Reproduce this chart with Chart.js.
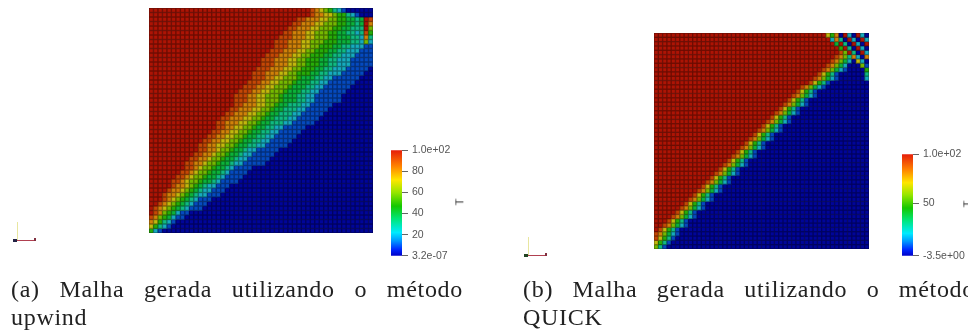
<!DOCTYPE html>
<html>
<head>
<meta charset="utf-8">
<script src="https://cdn.jsdelivr.net/npm/chart.js@4"></script>
<style>
  html, body { margin: 0; padding: 0; background: #fff; width: 968px; height: 330px; overflow: hidden; }
  .box { position: absolute; }
  .box canvas { filter: blur(0.65px); }
  .cap { position: absolute; width: 452px; font-family: "Liberation Serif", serif; font-size: 24px; letter-spacing: 0.7px; line-height: 28px; color: #222; white-space: nowrap; filter: blur(0.3px); }
  .just { white-space: normal; text-align: justify; text-align-last: justify; }
  .tlabel { position: absolute; font: 11px "Liberation Sans", sans-serif; color: #333; transform: rotate(-90deg); filter: blur(0.4px); }
  .ax { position: absolute; filter: blur(0.6px); }
</style>
</head>
<body>

<div class="box" style="left:149px;top:8px;width:224px;height:225px"><canvas id="meshUpwind"></canvas></div>
<div class="box" style="left:654px;top:33px;width:215px;height:216px"><canvas id="meshQuick"></canvas></div>
<div class="box" style="left:388px;top:140px;width:80px;height:126px"><canvas id="barUpwind"></canvas></div>
<div class="box" style="left:899px;top:144px;width:69px;height:122px"><canvas id="barQuick"></canvas></div>

<div class="tlabel" style="left:456px;top:196px">T</div>
<div class="tlabel" style="left:964px;top:198px">T</div>

<!-- orientation widgets -->
<div class="ax" style="left:17px;top:222px;width:1px;height:18px;background:#e8e6a0"></div>
<div class="ax" style="left:14px;top:240px;width:22px;height:1px;background:#b04050"></div>
<div class="ax" style="left:13px;top:239px;width:4px;height:3px;background:#224"></div>
<div class="ax" style="left:34px;top:238px;width:2px;height:3px;background:#803040"></div>
<div class="ax" style="left:528px;top:237px;width:1px;height:18px;background:#e8e6a0"></div>
<div class="ax" style="left:525px;top:255px;width:22px;height:1px;background:#b04050"></div>
<div class="ax" style="left:524px;top:254px;width:4px;height:3px;background:#242"></div>
<div class="ax" style="left:545px;top:253px;width:2px;height:3px;background:#803040"></div>

<div class="cap just" style="left:11px;top:275px">(a) Malha gerada utilizando o método</div>
<div class="cap" style="left:11px;top:303px">upwind</div>
<div class="cap just" style="left:523px;top:275px">(b) Malha gerada utilizando o método</div>
<div class="cap" style="left:523px;top:303px">QUICK</div>

<script>
// mesh rows go from the bottom of the plot upwards. red = how many full red cells start the row,
// band = the cells after them in tens of degrees (hex, A = 100), whatever is left is blue
const gridSize = 50;

const upwindRed = [0,0,0,0,1,1,2,3,3,4,5,5,6,7,8,8,9,10,11,11,12,13,14,15,15,16,17,18,19,19,19,20,21,22,23,23,24,25,25,26,27,28,28,29,30,31,32,33,36,36];
const upwindBand = [
  "521", "75321", "875321", "98654211", "98654211",
  "98765432111", "98765432111", "98765432111",
  "9887654322111", "9887654322111", "9887654322111",
  "998766544321111", "998766544321111", "998766544321111", "998766544321111",
  "998876654432211111", "998876654432211111", "998876654432211111", "998876654432211111",
  "99887766544332211111", "99887766544332211111", "99887766544332211111", "99887766544332211111", "99887766544332211111",
  "9988877665443332211111", "9988877665443332211111", "9988877665443332211111", "9988877665443332211111", "9988877665443332211111",
  "999887766654443322111111", "999887766654443322111111", "999887766654443322111111", "999887766654443322111111", "999887766654443322111111", "999887766654443322111111",
  "9998887766555443322211111", "9998887766555443322211111", "9998887766555443322211111", "9998887766555443322211111", "9998887766555443322211111", "9998887766555443322211111", "9998887766555443322211111",
  "9998887766655544433262",
  "999888776665544433283",
  "99888776665544332395",
  "99888776665544333A6",
  "9988877666554434A8",
  "998887766554434A9",
  "98877655321",
  "98765321"
];

const quickRed = [0,0,0,0,1,2,3,4,5,6,7,8,9,10,11,12,13,14,15,16,17,18,19,20,21,22,23,24,25,26,27,28,29,30,31,32,33,34,36,37,38,39,40,41,42,43,43,42,41,40];
const quickBand = [
  "631", "7531", "97531",
  "986421", "975310", "986421", "975310", "986421", "975310", "986421", "975310", "986421", "975310", "986421", "975310", "986421", "975310",
  "986421", "975310", "986421", "975310", "986421", "975310", "986421", "975310", "986421", "975310", "986421", "975310", "986421", "975310",
  "986421", "975310", "986421", "975310", "986421", "975310", "986421",
  "975310", "9864210000002", "975310000003", "98642100005", "9864200061", "986420720", "98638208",
  "96A30A2", "5A30A20", "4A30A20A", "2830A20A2", "7580A20A20"
];

const upwindTicks = [3.2e-7, 20, 40, 60, 80, 100];
const upwindTickLabels = ["3.2e-07", "20", "40", "60", "80", "1.0e+02"];
const quickTicks = [-3.5, 50, 100];
const quickTickLabels = ["-3.5e+00", "50", "1.0e+02"];

// colour scale, position 0..1 from the bottom of the bar
const rainbowPos = [0, 0.06, 0.14, 0.22, 0.35, 0.47, 0.6, 0.72, 0.85, 1];
const barRgb = [[0,0,200],[0,40,255],[0,150,255],[0,235,255],[0,230,120],[20,200,0],[150,230,0],[255,230,0],[255,130,0],[230,30,10]];
// same scale on the mesh, the surface is shaded darker there
const meshRgb = [[0,5,150],[0,30,185],[10,115,190],[25,185,185],[10,180,90],[15,165,10],[115,180,0],[205,180,15],[205,95,5],[170,20,5]];

function rainbow(t, rgb, shade) {
  let i = 0;
  while (i < rainbowPos.length - 2 && t > rainbowPos[i + 1]) i++;
  const f = (t - rainbowPos[i]) / (rainbowPos[i + 1] - rainbowPos[i]);
  const c = rgb[i].map((v, n) => Math.min(255, Math.round((v + (rgb[i + 1][n] - v) * f) * shade)));
  return 'rgb(' + c.join(',') + ')';
}

function buildCells(red, band) {
  const cells = [];
  const lit = [];
  const dark = [];
  for (let row = 0; row < gridSize; row++) {
    for (let col = 0; col < gridSize; col++) {
      let value = 0;
      if (col < red[row]) value = 100;
      else if (band[row][col - red[row]] !== undefined) value = parseInt(band[row][col - red[row]], 16) * 10;
      cells.push({ x: col + 0.5, y: row + 0.5 });
      lit.push(rainbow(value / 100, meshRgb, 1.02));
      dark.push(rainbow(value / 100, meshRgb, 0.64));
    }
  }
  return { cells: cells, lit: lit, dark: dark };
}

function makeMesh(id, red, band, pointRadius) {
  const mesh = buildCells(red, band);
  new Chart(document.getElementById(id), {
    type: 'scatter',
    data: {
      datasets: [
        // cell faces on top, the dark layer under them shows as mesh lines
        { data: mesh.cells, backgroundColor: mesh.lit, borderWidth: 0, pointStyle: 'rect', pointRadius: pointRadius * 0.7 },
        { data: mesh.cells, backgroundColor: mesh.dark, borderWidth: 0, pointStyle: 'rect', pointRadius: pointRadius * 1.15 }
      ]
    },
    options: {
      responsive: true,
      maintainAspectRatio: false,
      animation: false,
      events: [],
      layout: { padding: 0, autoPadding: false },
      plugins: { legend: { display: false }, tooltip: { enabled: false } },
      scales: {
        x: { type: 'linear', min: 0, max: gridSize, display: false },
        y: { type: 'linear', min: 0, max: gridSize, display: false }
      }
    }
  });
}

function barGradient(context) {
  const chart = context.chart;
  if (!chart.chartArea) return '#888';
  const g = chart.ctx.createLinearGradient(0, chart.chartArea.bottom, 0, chart.chartArea.top);
  rainbowPos.forEach((p) => g.addColorStop(p, rainbow(p, barRgb, 1)));
  return g;
}

function makeBar(id, ticks, labels, top, bottom) {
  new Chart(document.getElementById(id), {
    type: 'bar',
    data: {
      labels: ['T'],
      datasets: [{ data: [[ticks[0], ticks[ticks.length - 1]]], backgroundColor: barGradient, barPercentage: 1, categoryPercentage: 1 }]
    },
    options: {
      responsive: true,
      maintainAspectRatio: false,
      animation: false,
      events: [],
      layout: { padding: { top: top, bottom: bottom, left: 3, right: 0 } },
      plugins: { legend: { display: false }, tooltip: { enabled: false } },
      scales: {
        x: { display: false },
        y: {
          position: 'right',
          min: ticks[0],
          max: ticks[ticks.length - 1],
          border: { display: false },
          grid: { drawOnChartArea: false, drawTicks: true, tickLength: 6, color: '#666' },
          afterBuildTicks: function(axis) { axis.ticks = ticks.map(v => ({ value: v })); },
          afterFit: function(axis) { axis.width = axis.chart.width - 11 - 3; },
          ticks: {
            autoSkip: false,
            padding: 4,
            color: '#555',
            font: { family: 'Liberation Sans', size: 10.5 },
            callback: function(value) { return labels[ticks.indexOf(value)]; }
          }
        }
      }
    }
  });
}

makeMesh('meshUpwind', upwindRed, upwindBand, 3.17);
makeMesh('meshQuick', quickRed, quickBand, 3.04);
makeBar('barUpwind', upwindTicks, upwindTickLabels, 10, 10);
makeBar('barQuick', quickTicks, quickTickLabels, 10, 10);
</script>
</body>
</html>
